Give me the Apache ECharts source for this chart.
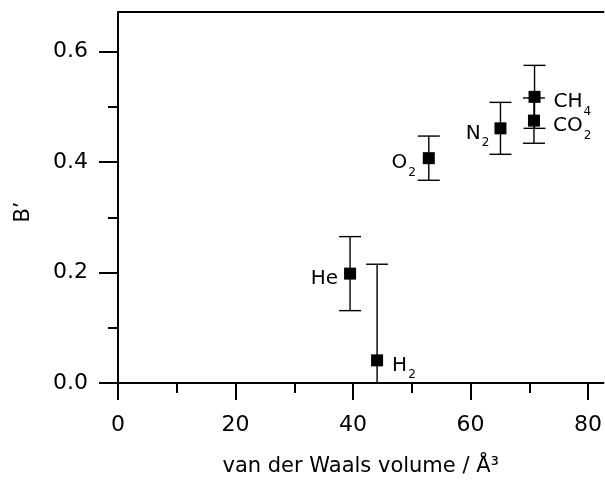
<!DOCTYPE html>
<html>
<head>
<meta charset="utf-8">
<script src="https://cdn.jsdelivr.net/npm/echarts@6/dist/echarts.min.js"></script>
<style>
html,body{margin:0;padding:0;background:#fff;}
#chart{width:605px;height:485px;}
</style>
</head>
<body>
<div id="chart"></div>
<script>
// ---- data ----
const gasMain = ['He', 'H', 'O', 'N', 'CH', 'CO'];
const gasSub  = ['',   '2', '2', '2', '4',  '2'];
const vdwVolume = [39.5, 44.1, 52.9, 65.1, 70.9, 70.8];
const bPrime    = [0.198, 0.041, 0.407, 0.461, 0.518, 0.475];
const bErr      = [0.067, 0.174, 0.040, 0.047, 0.057, 0.041];
const xMajorTicks = [0, 20, 40, 60, 80];
const xMinorTicks = [10, 30, 50, 70];
const yMajorTicks = [0, 0.2, 0.4, 0.6];
const yMinorTicks = [0.1, 0.3, 0.5];

// ---- presentation ----
const FONT = 'DejaVu Sans';
const X_MIN = 0, X_MAX = 82.63, Y_MIN = 0, Y_MAX = 0.6716;
const labelSide = { He: ['left', 6], H: ['right', 9], O: ['left', 7], N: ['left', 5], CH: ['right', 13], CO: ['right', 13] };

const errData = vdwVolume.map((x, i) => [x, bPrime[i], bPrime[i] - bErr[i], bPrime[i] + bErr[i]]);
const pointData = vdwVolume.map((x, i) => {
  const side = labelSide[gasMain[i]];
  const txt = '{m|' + gasMain[i] + '}' + (gasSub[i] ? '{s|' + gasSub[i] + '}' : '');
  return {
    value: [x, bPrime[i]],
    label: { show: true, position: side[0], distance: side[1], formatter: txt }
  };
});

const axisLineStyle = { color: '#000', width: 2 };
const chart = echarts.init(document.getElementById('chart'), null, { renderer: 'canvas' });
chart.setOption({
  animation: false,
  backgroundColor: '#fff',
  grid: { left: 118, top: 12, right: 0, bottom: 102, containLabel: false },
  xAxis: [
    {
      type: 'value', position: 'bottom', min: X_MIN, max: X_MAX,
      axisLine: { show: true, onZero: false, lineStyle: axisLineStyle },
      axisTick: { show: true, inside: false, length: 17, lineStyle: { color: '#000', width: 2 }, customValues: xMajorTicks },
      axisLabel: { show: true, margin: 31, color: '#000', fontFamily: FONT, fontSize: 22, customValues: xMajorTicks },
      splitLine: { show: false },
      name: 'van der Waals volume / Å³', nameLocation: 'middle', nameGap: 73,
      nameTextStyle: { color: '#000', fontFamily: FONT, fontSize: 21 }
    },
    {
      type: 'value', position: 'bottom', min: X_MIN, max: X_MAX,
      axisLine: { show: false, onZero: false },
      axisTick: { show: true, inside: false, length: 10, lineStyle: { color: '#000', width: 2 }, customValues: xMinorTicks },
      axisLabel: { show: false },
      splitLine: { show: false }
    },
    {
      type: 'value', position: 'top', min: X_MIN, max: X_MAX,
      axisLine: { show: true, onZero: false, lineStyle: axisLineStyle },
      axisTick: { show: false }, axisLabel: { show: false }, splitLine: { show: false }
    }
  ],
  yAxis: [
    {
      type: 'value', position: 'left', min: Y_MIN, max: Y_MAX,
      axisLine: { show: true, onZero: false, lineStyle: axisLineStyle },
      axisTick: { show: true, inside: false, length: 19, lineStyle: { color: '#000', width: 2 }, customValues: yMajorTicks },
      axisLabel: { show: true, margin: 30, color: '#000', fontFamily: FONT, fontSize: 22,
        customValues: yMajorTicks, formatter: v => v.toFixed(1) },
      splitLine: { show: false }
    },
    {
      type: 'value', position: 'left', min: Y_MIN, max: Y_MAX,
      axisLine: { show: false, onZero: false },
      axisTick: { show: true, inside: false, length: 10, lineStyle: { color: '#000', width: 2 }, customValues: yMinorTicks },
      axisLabel: { show: false }, splitLine: { show: false }
    }
  ],
  graphic: [{
    type: 'text', x: 24, y: 212, rotation: Math.PI / 2,
    style: { text: 'B’', fill: '#000', font: '21px "DejaVu Sans"', align: 'center', verticalAlign: 'middle' }
  }],
  series: [
    {
      type: 'custom', xAxisIndex: 0, yAxisIndex: 0, clip: true, z: 2,
      data: errData,
      renderItem: function (params, api) {
        const x = api.value(0), lo = api.value(2), hi = api.value(3);
        const pHi = api.coord([x, hi]);
        const pLo = api.coord([x, lo]);
        const hw = 11;
        const st = { stroke: '#000', lineWidth: 1.4, fill: null };
        return {
          type: 'group',
          children: [
            { type: 'line', shape: { x1: pHi[0], y1: pHi[1], x2: pLo[0], y2: pLo[1] }, style: st },
            { type: 'line', shape: { x1: pHi[0] - hw, y1: pHi[1], x2: pHi[0] + hw, y2: pHi[1] }, style: st },
            { type: 'line', shape: { x1: pLo[0] - hw, y1: pLo[1], x2: pLo[0] + hw, y2: pLo[1] }, style: st }
          ]
        };
      }
    },
    {
      type: 'scatter', xAxisIndex: 0, yAxisIndex: 0, z: 3,
      symbol: 'rect', symbolSize: 12,
      itemStyle: { color: '#000', opacity: 1 },
      label: {
        show: true, offset: [0, 5],
        rich: {
          m: { fontFamily: FONT, fontSize: 20, color: '#000', lineHeight: 20, verticalAlign: 'top' },
          s: { fontFamily: FONT, fontSize: 12, color: '#000', lineHeight: 12, padding: [14, 0, 0, 1], verticalAlign: 'top' }
        }
      },
      data: pointData
    }
  ]
});
</script>
</body>
</html>
